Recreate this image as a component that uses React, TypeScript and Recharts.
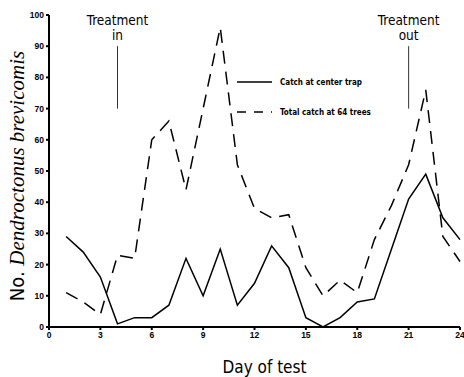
import { Line, LineChart, ReferenceLine, XAxis, YAxis } from "recharts";

// Daily beetle catches, days 1..24
const days = [1, 2, 3, 4, 5, 6, 7, 8, 9, 10, 11, 12, 13, 14, 15, 16, 17, 18, 19, 20, 21, 22, 23, 24];
const centerTrap = [29, 24, 16, 1, 3, 3, 7, 22, 10, 25, 7, 14, 26, 19, 3, 0, 3, 8, 9, 25, 41, 49, 35, 28];
const totalCatch = [11, 8, 4, 23, 22, 60, 66, 44, 70, 96, 52, 38, 35, 36, 19, 10, 15, 11, 28, 39, 52, 76, 29, 21];

const xTicks = [0, 3, 6, 9, 12, 15, 18, 21, 24];
const yTicks = [0, 10, 20, 30, 40, 50, 60, 70, 80, 90, 100];

const treatments = [
  { day: 4, label: "in" },
  { day: 21, label: "out" },
];
const markerFrom = 70;
const markerTo = 90;

const seriesNames = ["Catch at center trap", "Total catch at 64 trees"];

const data = days.map((d, i) => ({ day: d, center: centerTrap[i], total: totalCatch[i] }));

const tickFont = { fontSize: 8.5, fontWeight: 700, fill: "#000", fontFamily: "Liberation Sans, Arial, sans-serif" };
const plotterFont = "DejaVu Sans Condensed, DejaVu Sans, sans-serif";

function TreatmentLabel(props: any) {
  const vb = props.viewBox || {};
  const x = vb.x ?? 0;
  const y = vb.y ?? 0;
  return (
    <text x={x} textAnchor="middle" fontFamily={plotterFont} fontSize={13.5} fill="#000">
      <tspan x={x} y={y - 21}>Treatment</tspan>
      <tspan x={x} y={y - 6}>{props.sub}</tspan>
    </text>
  );
}

function YLabel(props: any) {
  const vb = props.viewBox || {};
  const cx = 17;
  const cy = vb.y + vb.height / 2 + 5;
  return (
    <text
      transform={`translate(${cx},${cy}) rotate(-90)`}
      textAnchor="middle"
      dominantBaseline="central"
      fill="#000"
      fontSize={20}
    >
      <tspan fontFamily={plotterFont}>No. </tspan>
      <tspan fontFamily="Liberation Serif, serif" fontStyle="italic" fontSize={21}>
        Dendroctonus brevicomis
      </tspan>
    </text>
  );
}

function LegendBox() {
  const dashes = [undefined, "9 8"];
  return (
    <svg width={150} height={50} style={{ position: "absolute", left: 237, top: 72 }}>
      {seriesNames.map((name, i) => (
        <g key={name} transform={`translate(0,${10 + i * 30})`}>
          <line x1={0} x2={35} y1={0} y2={0} stroke="#000" strokeWidth={1.4} strokeDasharray={dashes[i]} />
          <text x={43} y={3} fontSize={8} fontWeight={700} fontFamily={plotterFont} fill="#000">
            {name}
          </text>
        </g>
      ))}
    </svg>
  );
}

export default function App() {
  return (
    <div style={{ position: "absolute", left: 0, top: 0, width: 464, height: 377, background: "#fff" }}>
      <LineChart width={464} height={377} data={data} margin={{ top: 15, right: 4, left: 0, bottom: 30 }}>
        <XAxis
          dataKey="day"
          type="number"
          domain={[0, 24]}
          ticks={xTicks}
          interval={0}
          tick={tickFont}
          tickSize={3}
          height={20}
          stroke="#000"
          strokeWidth={2}
          label={{
            value: "Day of test",
            position: "insideBottom",
            offset: -26,
            dx: 10,
            fontSize: 17,
            fill: "#000",
            fontFamily: plotterFont,
          }}
        />
        <YAxis
          type="number"
          domain={[0, 100]}
          ticks={yTicks}
          interval={0}
          tick={tickFont}
          tickSize={3}
          width={49}
          stroke="#000"
          strokeWidth={2}
          label={<YLabel />}
        />
        {treatments.map((t) => (
          <ReferenceLine
            key={t.day}
            segment={[
              { x: t.day, y: markerFrom },
              { x: t.day, y: markerTo },
            ]}
            stroke="#333"
            strokeWidth={1}
            label={<TreatmentLabel sub={t.label} />}
          />
        ))}
        <Line
          dataKey="center"
          name={seriesNames[0]}
          stroke="#000"
          strokeWidth={1.5}
          dot={false}
          type="linear"
          isAnimationActive={false}
        />
        <Line
          dataKey="total"
          name={seriesNames[1]}
          stroke="#000"
          strokeWidth={1.5}
          strokeDasharray="13 8"
          dot={false}
          type="linear"
          isAnimationActive={false}
        />
      </LineChart>
      <LegendBox />
    </div>
  );
}
